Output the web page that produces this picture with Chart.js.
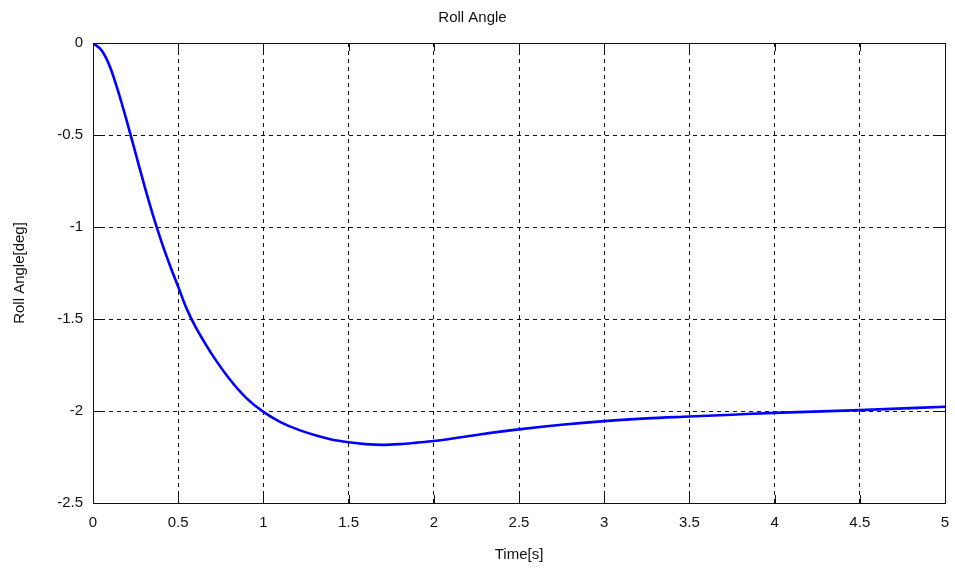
<!DOCTYPE html>
<html>
<head>
<meta charset="utf-8">
<script src="https://cdn.jsdelivr.net/npm/chart.js@4"></script>
<style>
  html, body { margin: 0; padding: 0; background: #fff; }
  #wrap { width: 955px; height: 571px; }
</style>
</head>
<body>
<div id="wrap"><canvas id="rollChart"></canvas></div>
<script>
/* ── data ── */
const timeS = [0, 0.05, 0.1, 0.15, 0.2, 0.25, 0.3, 0.35, 0.4, 0.45, 0.5, 0.55, 0.6, 0.65, 0.7, 0.8, 0.9,
  1.0, 1.1, 1.2, 1.3, 1.4, 1.5, 1.6, 1.7, 1.8, 1.9, 2.0, 2.25, 2.5, 2.75, 3.0, 3.25, 3.5, 3.75,
  4.0, 4.5, 5.0];
const rollDeg = [0, -0.04, -0.13, -0.27, -0.43, -0.6, -0.77, -0.93, -1.075, -1.205, -1.325, -1.445, -1.54,
  -1.62, -1.695, -1.825, -1.93, -2.005, -2.06, -2.1, -2.13, -2.155, -2.17, -2.18, -2.184, -2.18, -2.172,
  -2.163, -2.13, -2.1, -2.075, -2.055, -2.04, -2.03, -2.02, -2.01, -1.995, -1.977];

const FONT = '"Liberation Sans", Arial, Helvetica, sans-serif';
const INK = '#111';

/* box round the plot plus matlab-style inward tick marks */
const boxTicks = {
  id: 'boxTicks',
  afterDraw(chart) {
    const { ctx, chartArea: a, scales } = chart;
    const len = 8;
    ctx.save();
    ctx.strokeStyle = INK;
    ctx.lineWidth = 1;
    ctx.setLineDash([]);
    ctx.beginPath();
    scales.x.ticks.forEach(t => {
      const px = Math.round(scales.x.getPixelForValue(t.value)) + 0.5;
      ctx.moveTo(px, a.bottom); ctx.lineTo(px, a.bottom - len);
      ctx.moveTo(px, a.top); ctx.lineTo(px, a.top + len);
    });
    scales.y.ticks.forEach(t => {
      const py = Math.round(scales.y.getPixelForValue(t.value)) + 0.5;
      ctx.moveTo(a.left, py); ctx.lineTo(a.left + len, py);
      ctx.moveTo(a.right, py); ctx.lineTo(a.right - len, py);
    });
    ctx.stroke();
    ctx.strokeRect(Math.round(a.left) + 0.5, Math.round(a.top) + 0.5,
      Math.round(a.right - a.left), Math.round(a.bottom - a.top));
    ctx.restore();
  }
};

const gridOpts = {
  color: INK,
  lineWidth: 1,
  drawTicks: false,
};

new Chart(document.getElementById('rollChart'), {
  type: 'line',
  data: {
    datasets: [{
      data: timeS.map((t, i) => ({ x: t, y: rollDeg[i] })),
      borderColor: '#0000ff',
      borderWidth: 2.6,
      pointRadius: 0,
      fill: false,
      cubicInterpolationMode: 'monotone',
    }]
  },
  options: {
    responsive: true,
    maintainAspectRatio: false,
    animation: false,
    layout: { padding: { left: 0, right: 10, top: 0, bottom: 0 } },
    plugins: {
      legend: { display: false },
      tooltip: { enabled: false },
      title: {
        display: true,
        text: 'Roll Angle',
        color: INK,
        font: { family: FONT, size: 15, weight: 'normal', lineHeight: 1.2 },
        padding: { top: 9, bottom: 16 },
      },
    },
    scales: {
      x: {
        type: 'linear',
        min: 0, max: 5,
        grid: gridOpts,
        border: { display: false, dash: [4, 4] },
        ticks: {
          stepSize: 0.5,
          padding: 11,
          color: INK,
          maxRotation: 0,
          font: { family: FONT, size: 15 },
          callback: v => String(v),
        },
        title: {
          display: true,
          text: 'Time[s]',
          color: INK,
          font: { family: FONT, size: 15, lineHeight: 1.2 },
          padding: { top: 4, bottom: 7 },
        },
        afterFit: s => { s.height = 68; s.paddingLeft = 0; s.paddingRight = 0; },
      },
      y: {
        min: -2.5, max: 0,
        grid: gridOpts,
        border: { display: false, dash: [4, 4] },
        ticks: {
          stepSize: 0.5,
          padding: 10,
          color: INK,
          font: { family: FONT, size: 15 },
          callback: v => String(v),
        },
        title: {
          display: true,
          text: 'Roll Angle[deg]',
          color: INK,
          font: { family: FONT, size: 15, lineHeight: 1.2 },
          padding: { top: 11, bottom: 0 },
        },
        afterFit: s => { s.width = 93; s.paddingTop = 0; s.paddingBottom = 0; },
      }
    }
  },
  plugins: [boxTicks]
});
</script>
</body>
</html>
